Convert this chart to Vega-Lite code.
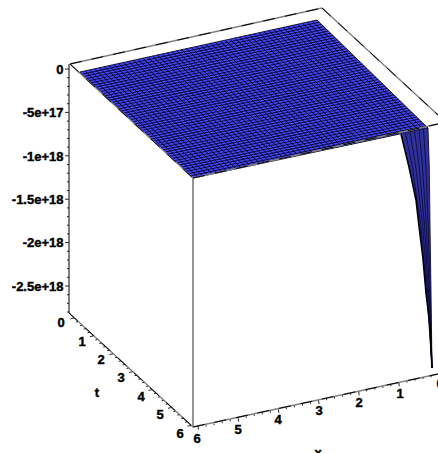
{"$schema":"https://vega.github.io/schema/vega-lite/v6.json","width":438,"height":453,"padding":0,"autosize":{"type":"none"},"background":"white","view":{"stroke":null},
"datasets":{
"surface":[{"v":20,"u":317,"u2":317},{"v":72,"u":80,"u2":370.4},{"v":128,"u":139.7,"u2":428},{"v":178,"u":193,"u2":193}],
"spike":[{"v":128,"u":428,"u2":428},{"v":134,"u":401,"u2":428.2},{"v":167,"u":409,"u2":429.3},{"v":200,"u":416,"u2":429.7},{"v":226,"u":419,"u2":430},{"v":259,"u":423,"u2":430.5},{"v":293,"u":426,"u2":431},{"v":326,"u":430,"u2":431.5},{"v":368,"u":432,"u2":432}],
"mesh":[
{"u":80,"v":72,"u2":317,"v2":20},{"u":82.3,"v":74.2,"u2":319.3,"v2":22.2},{"u":84.6,"v":76.3,"u2":321.5,"v2":24.4},{"u":86.9,"v":78.5,"u2":323.8,"v2":26.6},{"u":89.2,"v":80.7,"u2":326.1,"v2":28.8},{"u":91.5,"v":82.8,"u2":328.3,"v2":31},{"u":93.8,"v":85,"u2":330.6,"v2":33.2},{"u":96.1,"v":87.1,"u2":332.9,"v2":35.4},{"u":98.4,"v":89.3,"u2":335.1,"v2":37.6},{"u":100.8,"v":91.5,"u2":337.4,"v2":39.8},
{"u":103.1,"v":93.6,"u2":339.7,"v2":42},{"u":105.4,"v":95.8,"u2":341.9,"v2":44.2},{"u":107.7,"v":98,"u2":344.2,"v2":46.4},{"u":110,"v":100.1,"u2":346.4,"v2":48.7},{"u":112.3,"v":102.3,"u2":348.7,"v2":50.9},{"u":114.6,"v":104.4,"u2":351,"v2":53.1},{"u":116.9,"v":106.6,"u2":353.2,"v2":55.3},{"u":119.2,"v":108.8,"u2":355.5,"v2":57.5},{"u":121.5,"v":110.9,"u2":357.8,"v2":59.7},{"u":123.8,"v":113.1,"u2":360,"v2":61.9},
{"u":126.1,"v":115.3,"u2":362.3,"v2":64.1},{"u":128.4,"v":117.4,"u2":364.6,"v2":66.3},{"u":130.7,"v":119.6,"u2":366.8,"v2":68.5},{"u":133,"v":121.7,"u2":369.1,"v2":70.7},{"u":135.3,"v":123.9,"u2":371.4,"v2":72.9},{"u":137.7,"v":126.1,"u2":373.6,"v2":75.1},{"u":140,"v":128.2,"u2":375.9,"v2":77.3},{"u":142.3,"v":130.4,"u2":378.2,"v2":79.5},{"u":144.6,"v":132.6,"u2":380.4,"v2":81.7},{"u":146.9,"v":134.7,"u2":382.7,"v2":83.9},
{"u":149.2,"v":136.9,"u2":385,"v2":86.1},{"u":151.5,"v":139.1,"u2":387.2,"v2":88.3},{"u":153.8,"v":141.2,"u2":389.5,"v2":90.5},{"u":156.1,"v":143.4,"u2":391.7,"v2":92.7},{"u":158.4,"v":145.5,"u2":394,"v2":94.9},{"u":160.7,"v":147.7,"u2":396.3,"v2":97.1},{"u":163,"v":149.9,"u2":398.5,"v2":99.3},{"u":165.3,"v":152,"u2":400.8,"v2":101.5},{"u":167.6,"v":154.2,"u2":403.1,"v2":103.8},{"u":169.9,"v":156.4,"u2":405.3,"v2":106},
{"u":172.2,"v":158.5,"u2":407.6,"v2":108.2},{"u":174.5,"v":160.7,"u2":409.9,"v2":110.4},{"u":176.9,"v":162.8,"u2":412.1,"v2":112.6},{"u":179.2,"v":165,"u2":414.4,"v2":114.8},{"u":181.5,"v":167.2,"u2":416.7,"v2":117},{"u":183.8,"v":169.3,"u2":418.9,"v2":119.2},{"u":186.1,"v":171.5,"u2":421.2,"v2":121.4},{"u":188.4,"v":173.7,"u2":423.5,"v2":123.6},{"u":190.7,"v":175.8,"u2":425.7,"v2":125.8},{"u":193,"v":178,"u2":428,"v2":128},
{"u":80,"v":72,"u2":193,"v2":178},{"u":84.8,"v":70.9,"u2":197.8,"v2":177},{"u":89.7,"v":69.9,"u2":202.6,"v2":176},{"u":94.5,"v":68.8,"u2":207.4,"v2":174.9},{"u":99.3,"v":67.8,"u2":212.2,"v2":173.9},{"u":104.2,"v":66.7,"u2":217,"v2":172.9},{"u":109,"v":65.6,"u2":221.8,"v2":171.9},{"u":113.9,"v":64.6,"u2":226.6,"v2":170.9},{"u":118.7,"v":63.5,"u2":231.4,"v2":169.8},{"u":123.5,"v":62.5,"u2":236.2,"v2":168.8},
{"u":128.4,"v":61.4,"u2":241,"v2":167.8},{"u":133.2,"v":60.3,"u2":245.8,"v2":166.8},{"u":138,"v":59.3,"u2":250.6,"v2":165.8},{"u":142.9,"v":58.2,"u2":255.3,"v2":164.7},{"u":147.7,"v":57.1,"u2":260.1,"v2":163.7},{"u":152.6,"v":56.1,"u2":264.9,"v2":162.7},{"u":157.4,"v":55,"u2":269.7,"v2":161.7},{"u":162.2,"v":54,"u2":274.5,"v2":160.7},{"u":167.1,"v":52.9,"u2":279.3,"v2":159.6},{"u":171.9,"v":51.8,"u2":284.1,"v2":158.6},
{"u":176.7,"v":50.8,"u2":288.9,"v2":157.6},{"u":181.6,"v":49.7,"u2":293.7,"v2":156.6},{"u":186.4,"v":48.7,"u2":298.5,"v2":155.6},{"u":191.3,"v":47.6,"u2":303.3,"v2":154.5},{"u":196.1,"v":46.5,"u2":308.1,"v2":153.5},{"u":200.9,"v":45.5,"u2":312.9,"v2":152.5},{"u":205.8,"v":44.4,"u2":317.7,"v2":151.5},{"u":210.6,"v":43.4,"u2":322.5,"v2":150.5},{"u":215.4,"v":42.3,"u2":327.3,"v2":149.4},{"u":220.3,"v":41.2,"u2":332.1,"v2":148.4},
{"u":225.1,"v":40.2,"u2":336.9,"v2":147.4},{"u":229.9,"v":39.1,"u2":341.7,"v2":146.4},{"u":234.8,"v":38,"u2":346.5,"v2":145.4},{"u":239.6,"v":37,"u2":351.3,"v2":144.3},{"u":244.5,"v":35.9,"u2":356.1,"v2":143.3},{"u":249.3,"v":34.9,"u2":360.9,"v2":142.3},{"u":254.1,"v":33.8,"u2":365.7,"v2":141.3},{"u":259,"v":32.7,"u2":370.5,"v2":140.3},{"u":263.8,"v":31.7,"u2":375.2,"v2":139.2},{"u":268.6,"v":30.6,"u2":380,"v2":138.2},
{"u":273.5,"v":29.6,"u2":384.8,"v2":137.2},{"u":278.3,"v":28.5,"u2":389.6,"v2":136.2},{"u":283.2,"v":27.4,"u2":394.4,"v2":135.2},{"u":288,"v":26.4,"u2":399.2,"v2":134.1},{"u":292.8,"v":25.3,"u2":404,"v2":133.1},{"u":297.7,"v":24.3,"u2":408.8,"v2":132.1},{"u":302.5,"v":23.2,"u2":413.6,"v2":131.1},{"u":307.3,"v":22.1,"u2":418.4,"v2":130.1},{"u":312.2,"v":21.1,"u2":423.2,"v2":129},{"u":317,"v":20,"u2":428,"v2":128}],
"fan":[
{"id":1,"u":405.5,"v":133},{"id":1,"u":412.4,"v":167},{"id":1,"u":420.8,"v":226},{"id":1,"u":426.8,"v":293},{"id":1,"u":432,"v":368},
{"id":2,"u":410,"v":132},{"id":2,"u":415.8,"v":167},{"id":2,"u":422.7,"v":226},{"id":2,"u":427.7,"v":293},{"id":2,"u":432,"v":368},
{"id":3,"u":414.5,"v":131},{"id":3,"u":419.2,"v":167},{"id":3,"u":424.5,"v":226},{"id":3,"u":428.5,"v":293},{"id":3,"u":432,"v":368},
{"id":4,"u":419,"v":130},{"id":4,"u":422.5,"v":167},{"id":4,"u":426.3,"v":226},{"id":4,"u":429.3,"v":293},{"id":4,"u":432,"v":368},
{"id":5,"u":423.5,"v":129},{"id":5,"u":425.9,"v":167},{"id":5,"u":428.2,"v":226},{"id":5,"u":430.2,"v":293},{"id":5,"u":432,"v":368},
{"id":6,"u":428,"v":128},{"id":6,"u":429.3,"v":167},{"id":6,"u":430,"v":226},{"id":6,"u":431,"v":293},{"id":6,"u":432,"v":368}],
"fanEdge":[{"u":401,"v":134},{"u":409,"v":167},{"u":416,"v":200},{"u":419,"v":226},{"u":423,"v":259},{"u":426,"v":293},{"u":430,"v":326},{"u":432,"v":368}],
"box":[{"u":70,"v":64,"u2":322,"v2":8},{"u":322,"v":8,"u2":438,"v2":115},{"u":70,"v":64,"u2":193,"v2":178},{"u":193,"v":178,"u2":438,"v2":124},{"u":69,"v":313,"u2":193,"v2":427},{"u":193,"v":427,"u2":438,"v2":374}],
"vertLeft":[{"u":69,"v":64,"u2":69,"v2":313}],
"vertNear":[{"u":193,"v":178,"u2":193,"v2":427}],
"ticks":[
{"u":69,"v":69,"u2":65,"v2":69},{"u":69,"v":77.7,"u2":67,"v2":77.7},{"u":69,"v":86.4,"u2":67,"v2":86.4},{"u":69,"v":95,"u2":67,"v2":95},{"u":69,"v":103.7,"u2":67,"v2":103.7},{"u":69,"v":112.4,"u2":65,"v2":112.4},{"u":69,"v":121.1,"u2":67,"v2":121.1},{"u":69,"v":129.8,"u2":67,"v2":129.8},{"u":69,"v":138.4,"u2":67,"v2":138.4},{"u":69,"v":147.1,"u2":67,"v2":147.1},{"u":69,"v":155.8,"u2":65,"v2":155.8},{"u":69,"v":164.5,"u2":67,"v2":164.5},{"u":69,"v":173.2,"u2":67,"v2":173.2},{"u":69,"v":181.8,"u2":67,"v2":181.8},{"u":69,"v":190.5,"u2":67,"v2":190.5},{"u":69,"v":199.2,"u2":65,"v2":199.2},{"u":69,"v":207.9,"u2":67,"v2":207.9},{"u":69,"v":216.6,"u2":67,"v2":216.6},{"u":69,"v":225.2,"u2":67,"v2":225.2},{"u":69,"v":233.9,"u2":67,"v2":233.9},{"u":69,"v":242.6,"u2":65,"v2":242.6},{"u":69,"v":251.3,"u2":67,"v2":251.3},{"u":69,"v":260,"u2":67,"v2":260},{"u":69,"v":268.6,"u2":67,"v2":268.6},{"u":69,"v":277.3,"u2":67,"v2":277.3},{"u":69,"v":286,"u2":65,"v2":286},{"u":69,"v":294.7,"u2":67,"v2":294.7},{"u":69,"v":303.4,"u2":67,"v2":303.4},{"u":69,"v":312,"u2":67,"v2":312},
{"u":74,"v":318,"u2":70.5,"v2":318.8},{"u":77.9,"v":321.6,"u2":75.9,"v2":322},{"u":81.8,"v":325.2,"u2":79.8,"v2":325.6},{"u":85.7,"v":328.7,"u2":83.7,"v2":329.1},{"u":89.6,"v":332.3,"u2":87.6,"v2":332.7},{"u":93.5,"v":335.9,"u2":90,"v2":336.7},{"u":97.4,"v":339.5,"u2":95.4,"v2":339.9},{"u":101.3,"v":343.1,"u2":99.3,"v2":343.5},{"u":105.2,"v":346.6,"u2":103.2,"v2":347},{"u":109.1,"v":350.2,"u2":107.1,"v2":350.6},{"u":113,"v":353.8,"u2":109.5,"v2":354.6},{"u":116.9,"v":357.4,"u2":114.9,"v2":357.8},{"u":120.8,"v":361,"u2":118.8,"v2":361.4},{"u":124.7,"v":364.5,"u2":122.7,"v2":364.9},{"u":128.6,"v":368.1,"u2":126.6,"v2":368.5},{"u":132.5,"v":371.7,"u2":129,"v2":372.5},{"u":136.4,"v":375.3,"u2":134.4,"v2":375.7},{"u":140.3,"v":378.9,"u2":138.3,"v2":379.3},{"u":144.2,"v":382.4,"u2":142.2,"v2":382.8},{"u":148.1,"v":386,"u2":146.1,"v2":386.4},{"u":152,"v":389.6,"u2":148.5,"v2":390.4},{"u":155.9,"v":393.2,"u2":153.9,"v2":393.6},{"u":159.8,"v":396.8,"u2":157.8,"v2":397.2},{"u":163.7,"v":400.3,"u2":161.7,"v2":400.7},{"u":167.6,"v":403.9,"u2":165.6,"v2":404.3},{"u":171.5,"v":407.5,"u2":168,"v2":408.3},{"u":175.4,"v":411.1,"u2":173.4,"v2":411.5},{"u":179.3,"v":414.7,"u2":177.3,"v2":415.1},{"u":183.2,"v":418.2,"u2":181.2,"v2":418.6},{"u":187.1,"v":421.8,"u2":185.1,"v2":422.2},{"u":191,"v":425.4,"u2":187.5,"v2":426.2},
{"u":431,"v":375.8,"u2":431,"v2":377.3},{"u":423,"v":377.5,"u2":423,"v2":379},{"u":414.9,"v":379.3,"u2":414.9,"v2":380.8},{"u":406.9,"v":381.1,"u2":406.9,"v2":382.6},{"u":398.8,"v":382.8,"u2":399.3,"v2":386.3},{"u":390.8,"v":384.6,"u2":390.8,"v2":386.1},{"u":382.8,"v":386.4,"u2":382.8,"v2":387.9},{"u":374.8,"v":388.1,"u2":374.8,"v2":389.6},{"u":366.7,"v":389.9,"u2":366.7,"v2":391.4},{"u":358.7,"v":391.7,"u2":359.2,"v2":395.2},{"u":350.7,"v":393.4,"u2":350.7,"v2":394.9},{"u":342.6,"v":395.2,"u2":342.6,"v2":396.7},{"u":334.6,"v":397,"u2":334.6,"v2":398.5},{"u":326.6,"v":398.7,"u2":326.6,"v2":400.2},{"u":318.5,"v":400.5,"u2":319,"v2":404},{"u":310.5,"v":402.3,"u2":310.5,"v2":403.8},{"u":302.5,"v":404,"u2":302.5,"v2":405.5},{"u":294.5,"v":405.8,"u2":294.5,"v2":407.3},{"u":286.4,"v":407.6,"u2":286.4,"v2":409.1},{"u":278.4,"v":409.3,"u2":278.9,"v2":412.8},{"u":270.4,"v":411.1,"u2":270.4,"v2":412.6},{"u":262.3,"v":412.9,"u2":262.3,"v2":414.4},{"u":254.3,"v":414.6,"u2":254.3,"v2":416.1},{"u":246.3,"v":416.4,"u2":246.3,"v2":417.9},{"u":238.2,"v":418.2,"u2":238.7,"v2":421.7},{"u":230.2,"v":419.9,"u2":230.2,"v2":421.4},{"u":222.2,"v":421.7,"u2":222.2,"v2":423.2},{"u":214.1,"v":423.5,"u2":214.1,"v2":425},{"u":206.1,"v":425.2,"u2":206.1,"v2":426.7},{"u":198,"v":426,"u2":198.5,"v2":429.5}],
"zLabels":[{"u":63.5,"v":70,"label":"0"},{"u":63.5,"v":113,"label":"-5e+17"},{"u":63.5,"v":157,"label":"-1e+18"},{"u":63.5,"v":200,"label":"-1.5e+18"},{"u":63.5,"v":243,"label":"-2e+18"},{"u":63.5,"v":287,"label":"-2.5e+18"}],
"axisLabels":[{"u":61,"v":323,"label":"0"},{"u":82,"v":342,"label":"1"},{"u":101,"v":360,"label":"2"},{"u":121,"v":378,"label":"3"},{"u":141,"v":397,"label":"4"},{"u":160,"v":415,"label":"5"},{"u":180,"v":434,"label":"6"},{"u":97,"v":393,"label":"t"},{"u":197,"v":439,"label":"6"},{"u":238,"v":430,"label":"5"},{"u":278,"v":420,"label":"4"},{"u":319,"v":411,"label":"3"},{"u":359,"v":403,"label":"2"},{"u":400,"v":394,"label":"1"},{"u":440,"v":384,"label":"0"},{"u":318,"v":453,"label":"x"}]
},
"encoding":{
"x":{"field":"u","type":"quantitative","axis":null,"scale":{"domain":[0,438],"nice":false,"zero":false}},
"y":{"field":"v","type":"quantitative","axis":null,"scale":{"domain":[453,0],"nice":false,"zero":false}}
},
"layer":[
{"data":{"name":"surface"},"mark":{"type":"area","orient":"horizontal","fill":"#4646ff","stroke":null},"encoding":{"x2":{"field":"u2"}}},
{"data":{"name":"spike"},"mark":{"type":"area","orient":"horizontal","fill":"#30309c","stroke":null},"encoding":{"x2":{"field":"u2"}}},
{"data":{"name":"mesh"},"mark":{"type":"rule","stroke":"#000010","strokeWidth":0.85},"encoding":{"x2":{"field":"u2"},"y2":{"field":"v2"}}},
{"data":{"name":"fan"},"mark":{"type":"line","stroke":"#0c0c40","strokeWidth":0.9,"interpolate":"linear"},"encoding":{"detail":{"field":"id"},"order":{"field":"v","type":"quantitative"}}},
{"data":{"name":"fanEdge"},"mark":{"type":"line","stroke":"#000000","strokeWidth":1.6,"interpolate":"linear"},"encoding":{"order":{"field":"v","type":"quantitative"}}},
{"data":{"name":"box"},"mark":{"type":"rule","stroke":"#808080","strokeWidth":1.3},"encoding":{"x2":{"field":"u2"},"y2":{"field":"v2"}}},
{"data":{"name":"box"},"mark":{"type":"rule","stroke":"#000000","strokeWidth":1,"strokeDash":[12,10]},"encoding":{"x2":{"field":"u2"},"y2":{"field":"v2"}}},
{"data":{"name":"vertLeft"},"mark":{"type":"rule","stroke":"#000000","strokeWidth":1},"encoding":{"x2":{"field":"u2"},"y2":{"field":"v2"}}},
{"data":{"name":"vertNear"},"mark":{"type":"rule","stroke":"#707070","strokeWidth":1.5},"encoding":{"x2":{"field":"u2"},"y2":{"field":"v2"}}},
{"data":{"name":"ticks"},"mark":{"type":"rule","stroke":"#111111","strokeWidth":0.9},"encoding":{"x2":{"field":"u2"},"y2":{"field":"v2"}}},
{"data":{"name":"zLabels"},"mark":{"type":"text","align":"right","baseline":"middle","font":"Liberation Sans","fontWeight":"bold","fontSize":13,"fill":"#000000","stroke":"#000000","strokeWidth":0.4},"encoding":{"text":{"field":"label","type":"nominal"}}},
{"data":{"name":"axisLabels"},"mark":{"type":"text","align":"center","baseline":"middle","font":"Liberation Sans","fontWeight":"bold","fontSize":13,"fill":"#000000","stroke":"#000000","strokeWidth":0.4},"encoding":{"text":{"field":"label","type":"nominal"}}}
]}
